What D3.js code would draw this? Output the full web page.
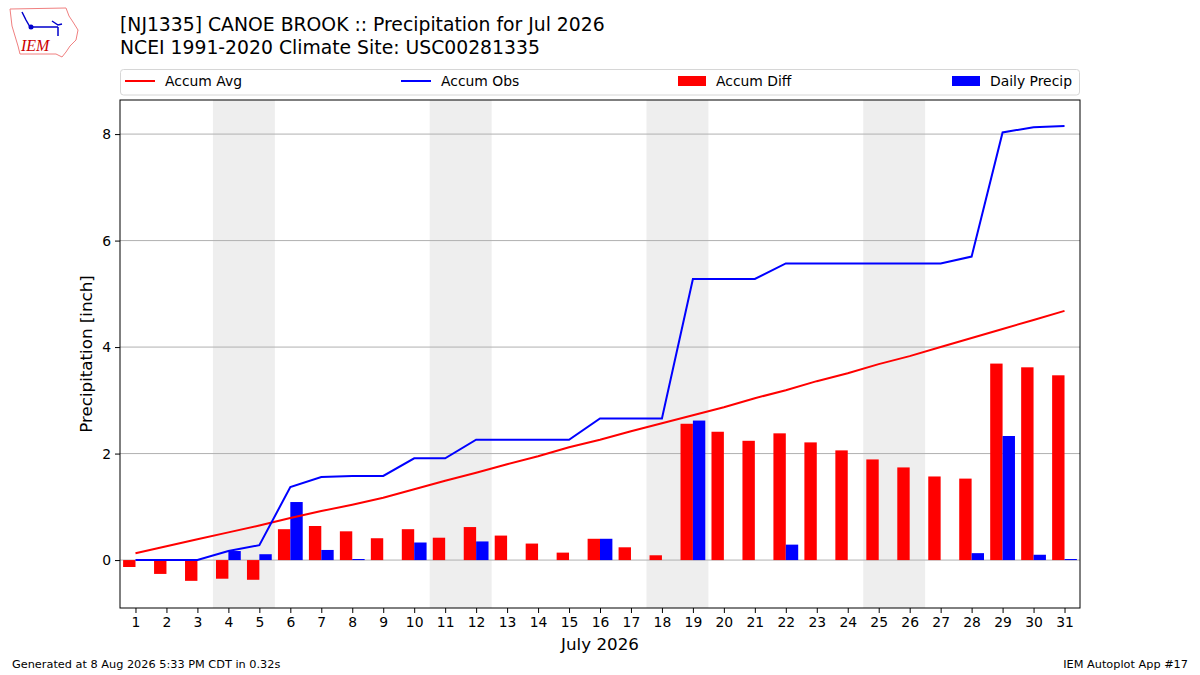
<!DOCTYPE html>
<html>
<head>
<meta charset="UTF-8">
<script src="https://cdn.jsdelivr.net/npm/d3@7"></script>
<style>
  body { margin: 0; background: #fff; }
  svg { font-family: "DejaVu Sans", sans-serif; }
</style>
</head>
<body>
<script>
// July 2026, daily values in inches
var days = d3.range(1, 32);
var dailyPrecip = [0, 0, 0, 0.17, 0.11, 1.09, 0.19, 0.02, 0, 0.33, 0, 0.35, 0, 0, 0,
                   0.40, 0, 0, 2.62, 0, 0, 0.29, 0, 0, 0, 0, 0, 0.13, 2.33, 0.10, 0.02];
var accumAvg = [0.13, 0.26, 0.39, 0.52, 0.65, 0.79, 0.92, 1.04, 1.17, 1.33, 1.49, 1.64, 1.80, 1.95, 2.12,
                2.26, 2.42, 2.57, 2.72, 2.87, 3.04, 3.19, 3.36, 3.51, 3.68, 3.83, 4.00, 4.17, 4.34, 4.51, 4.68];
var weekends = [[4, 5], [11, 12], [18, 19], [25, 26]];
var yTicks = [0, 2, 4, 6, 8];

var accumObs = Array.from(d3.cumsum(dailyPrecip));
var accumDiff = accumObs.map(function(v, i) { return v - accumAvg[i]; });

var width = 1200, height = 675;
var m = {left: 120, right: 1080, top: 100, bottom: 608};

var svg = d3.select('body').append('svg').attr('width', width).attr('height', height);

var x = d3.scaleLinear().domain([0.5, 31.5]).range([m.left, m.right]);
var y = d3.scaleLinear().domain([-0.9, 8.64]).range([m.bottom, m.top]);

// weekend shading
svg.selectAll('.wk').data(weekends).enter().append('rect')
  .attr('x', function(d) { return x(d[0] - 0.5); })
  .attr('width', function(d) { return x(d[1] + 0.5) - x(d[0] - 0.5); })
  .attr('y', m.top).attr('height', m.bottom - m.top)
  .attr('fill', '#eeeeee');

// grid
svg.selectAll('.grid').data(yTicks).enter().append('line')
  .attr('x1', m.left).attr('x2', m.right)
  .attr('y1', function(d) { return y(d); }).attr('y2', function(d) { return y(d); })
  .attr('stroke', '#b0b0b0').attr('stroke-width', 1);

// bars
var bw = 0.4;
svg.selectAll('.diff').data(days).enter().append('rect')
  .attr('x', function(d) { return x(d - bw); })
  .attr('width', x(bw) - x(0))
  .attr('y', function(d, i) { return y(Math.max(0, accumDiff[i])); })
  .attr('height', function(d, i) { return Math.abs(y(accumDiff[i]) - y(0)); })
  .attr('fill', '#ff0000');

svg.selectAll('.daily').data(days).enter().append('rect')
  .attr('x', function(d) { return x(d); })
  .attr('width', x(bw) - x(0))
  .attr('y', function(d, i) { return y(dailyPrecip[i]); })
  .attr('height', function(d, i) { return y(0) - y(dailyPrecip[i]); })
  .attr('fill', '#0000ff');

// lines
var line = function(vals) {
  return d3.line().x(function(d, i) { return x(days[i]); }).y(function(d) { return y(d); })(vals);
};
svg.append('path').attr('d', line(accumAvg)).attr('fill', 'none')
  .attr('stroke', '#ff0000').attr('stroke-width', 2);
svg.append('path').attr('d', line(accumObs)).attr('fill', 'none')
  .attr('stroke', '#0000ff').attr('stroke-width', 2);

// axes
var xAxis = d3.axisBottom(x).tickValues(days).tickSize(5).tickPadding(4).tickFormat(d3.format('d'));
var gx = svg.append('g').attr('transform', 'translate(0,' + m.bottom + ')').call(xAxis);
var yAxis = d3.axisLeft(y).tickValues(yTicks).tickSize(5).tickPadding(4).tickFormat(d3.format('d'));
var gy = svg.append('g').attr('transform', 'translate(' + m.left + ',0)').call(yAxis);
[gx, gy].forEach(function(g) {
  g.select('.domain').remove();
  g.selectAll('text').attr('font-size', 13.9).attr('fill', '#000').attr('font-family', 'DejaVu Sans');
  g.selectAll('line').attr('stroke', '#000');
});

svg.append('rect').attr('x', m.left).attr('y', m.top)
  .attr('width', m.right - m.left).attr('height', m.bottom - m.top)
  .attr('fill', 'none').attr('stroke', '#000').attr('stroke-width', 1);

svg.append('text').attr('transform', 'translate(92,' + ((m.top + m.bottom) / 2) + ') rotate(-90)')
  .attr('text-anchor', 'middle').attr('font-size', 16.7).text('Precipitation [inch]');
svg.append('text').attr('x', (m.left + m.right) / 2).attr('y', 650)
  .attr('text-anchor', 'middle').attr('font-size', 16.7).text('July 2026');

// titles
svg.append('text').attr('x', 120).attr('y', 31).attr('font-size', 18.8)
  .text('[NJ1335] CANOE BROOK :: Precipitation for Jul 2026');
svg.append('text').attr('x', 120).attr('y', 54).attr('font-size', 18.8)
  .text('NCEI 1991-2020 Climate Site: USC00281335');

// legend
var lg = svg.append('g');
lg.append('rect').attr('x', 120.5).attr('y', 69.5).attr('width', 959).attr('height', 25.5)
  .attr('rx', 3).attr('fill', '#fff').attr('stroke', '#d6d6d6');
var items = [
  {label: 'Accum Avg', color: '#ff0000', type: 'line', x: 125},
  {label: 'Accum Obs', color: '#0000ff', type: 'line', x: 401},
  {label: 'Accum Diff', color: '#ff0000', type: 'bar', x: 678},
  {label: 'Daily Precip', color: '#0000ff', type: 'bar', x: 952}
];
items.forEach(function(it) {
  if (it.type === 'line') {
    lg.append('line').attr('x1', it.x).attr('x2', it.x + 30).attr('y1', 81).attr('y2', 81)
      .attr('stroke', it.color).attr('stroke-width', 2);
  } else {
    lg.append('rect').attr('x', it.x).attr('y', 76).attr('width', 28).attr('height', 10).attr('fill', it.color);
  }
  lg.append('text').attr('x', it.x + (it.type === 'line' ? 40 : 38)).attr('y', 86)
    .attr('font-size', 13.9).text(it.label);
});

// footer
svg.append('text').attr('x', 12).attr('y', 668).attr('font-size', 11.3)
  .text('Generated at 8 Aug 2026 5:33 PM CDT in 0.32s');
svg.append('text').attr('x', 1188).attr('y', 668).attr('font-size', 11.3).attr('text-anchor', 'end')
  .text('IEM Autoplot App #17');

// logo
var logo = svg.append('g');
logo.append('path')
  .attr('d', 'M10,9 L66,8 L69,16 L73,22 L78,30 L76,40 L70,46 L66,52 L62,57 L56,54 L20,54 L18,46 L15,36 L12,26 Z')
  .attr('fill', 'none').attr('stroke', '#f08080').attr('stroke-width', 1);
logo.append('path').attr('d', 'M30,27 L58,27 M52,21 L58,25 L62,24 M58,27 L58,36 M22,12 L26,20 L30,27')
  .attr('fill', 'none').attr('stroke', '#0000cc').attr('stroke-width', 1.5);
logo.append('circle').attr('cx', 31).attr('cy', 27).attr('r', 2.5).attr('fill', '#0000cc');
logo.append('text').attr('x', 21).attr('y', 51).attr('font-size', 16).attr('font-style', 'italic')
  .attr('font-family', 'Liberation Serif, serif').attr('fill', '#cc0000').text('IEM');
</script>
</body>
</html>
